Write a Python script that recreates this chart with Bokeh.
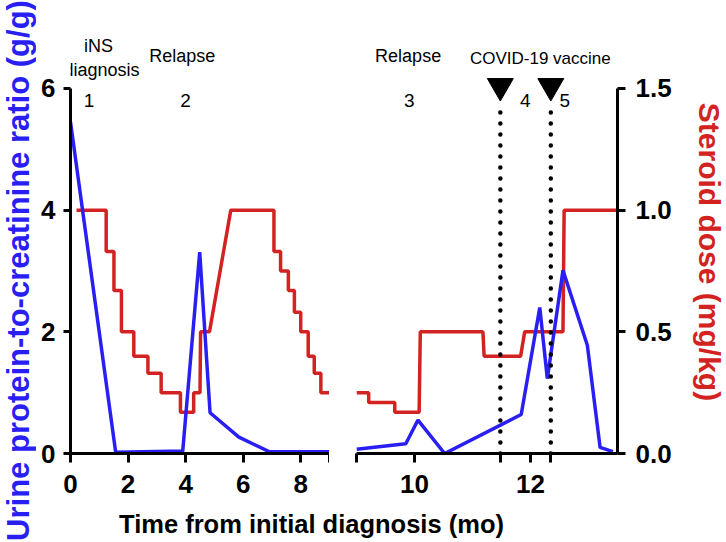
import math
from bokeh.plotting import figure
from bokeh.models import Range1d, LinearAxis, FixedTicker, Label, PrintfTickFormatter
from bokeh.layouts import row, column
from bokeh.embed import file_html
from bokeh.resources import INLINE
from bokeh.core.properties import value

# ---------------- data ----------------
# Urine protein-to-creatinine ratio (g/g), broken time axis (months)
pcr_t_early = [0, 1.57, 3.9, 4.49, 4.85, 5.85, 6.9, 9.0]
pcr_early = [5.45, 0.02, 0.04, 3.31, 0.67, 0.27, 0.03, 0.03]
pcr_t_late = [9.0, 9.85, 10.06, 10.52, 11.84, 12.16, 12.29, 12.56, 12.98, 13.2, 13.42]
pcr_late = [0.07, 0.16, 0.55, 0.0, 0.64, 2.40, 1.23, 3.01, 1.78, 0.1, 0.03]

# Steroid dose (mg/kg)
ster_t_early = [0.21, 1.24, 1.24, 1.51, 1.51, 1.77, 1.77, 2.2, 2.2, 2.69,
                2.69, 3.15, 3.15, 3.82, 3.82, 4.28, 4.28, 4.5, 4.52, 4.83,
                5.57, 7.07, 7.07, 7.3, 7.3, 7.57, 7.57, 7.78, 7.78, 8.0,
                8.0, 8.26, 8.26, 8.47, 8.47, 8.7, 8.7, 9.0]
ster_early = [1.0, 1.0, 0.83, 0.83, 0.67, 0.67, 0.5, 0.5, 0.4, 0.4,
              0.33, 0.33, 0.25, 0.25, 0.17, 0.17, 0.25, 0.25, 0.5, 0.5,
              1.0, 1.0, 0.83, 0.83, 0.75, 0.75, 0.67, 0.67, 0.58, 0.58,
              0.5, 0.5, 0.4, 0.4, 0.33, 0.33, 0.25, 0.25]
ster_t_late = [9.0, 9.21, 9.21, 9.66, 9.66, 10.08, 10.1, 11.18, 11.2, 11.83, 11.9, 12.56, 12.58, 13.5]
ster_late = [0.25, 0.25, 0.21, 0.21, 0.17, 0.17, 0.5, 0.5, 0.4, 0.4, 0.5, 0.5, 1.0, 1.0]

# COVID-19 vaccine doses (months)
vaccine_t = [11.48, 12.35]

# phase numbers and event labels
phase_text = ["1", "2", "3", "4", "5"]
phase_t = [0.64, 4.0, 9.91, 11.91, 12.59]
event_text = ["iNS", "diagnosis", "Relapse", "Relapse", "COVID-19 vaccine"]
event_t = [0.97, 1.08, 3.88, 9.89, 12.17]
event_y = [6.69, 6.30, 6.54, 6.54, 6.49]
event_size = ["18px", "18px", "18px", "18px", "17px"]

x_ticks_early = [0, 2, 4, 6, 8]
x_minor_early = [9]
x_ticks_late = [10, 12]
x_minor_late = [9] + vaccine_t
pcr_ticks = [0, 2, 4, 6]
ster_ticks = [0, 0.5, 1.0, 1.5]

y_title = "Urine protein-to-creatinine ratio (g/g)"
y2_title = "Steroid dose (mg/kg)"
x_title = "Time from initial diagnosis (mo)"

# ---------------- style ----------------
BLUE = "#2a1ff2"
RED = "#d32222"
FONT = "Liberation Sans"
YMAX = 7.15
PHASE_Y = 5.81
TRI_Y = 6.04
DOT_TOP = 5.65

TOP_H = 504      # height of the two chart panels
BOT_H = 37       # height of the x title strip
P4_W = 49


def style_axis(ax, tick_out, standoff):
    ax.axis_line_width = 3
    ax.axis_line_color = "black"
    ax.major_tick_line_width = 3
    ax.major_tick_out = tick_out
    ax.major_tick_in = 0
    ax.minor_tick_line_width = 3
    ax.minor_tick_line_color = "black"
    ax.minor_tick_out = tick_out
    ax.minor_tick_in = 0
    ax.major_label_text_font = FONT
    ax.major_label_text_font_size = "26px"
    ax.major_label_text_font_style = "bold"
    ax.major_label_text_color = "black"
    ax.major_label_standoff = standoff


def bare(width, height):
    p = figure(width=width, height=height, x_range=Range1d(0, width), y_range=Range1d(0, height),
               min_border=0, toolbar_location=None, output_backend="svg",
               x_axis_location=None, y_axis_location=None)
    p.outline_line_color = None
    p.grid.visible = False
    return p


def make_panel(x0, x1, fw, bl, br, ylab):
    p = figure(frame_width=fw, frame_height=435,
               x_range=Range1d(x0, x1), y_range=Range1d(0, YMAX),
               output_backend="svg", toolbar_location=None,
               min_border_left=bl, min_border_right=br,
               min_border_top=18, min_border_bottom=51,
               y_axis_location=("left" if ylab else None))
    p.extra_y_ranges = {"steroid": Range1d(0, YMAX / 4)}
    p.xgrid.visible = False
    p.ygrid.visible = False
    p.outline_line_color = None
    return p


p1 = make_panel(0, 9, 259, 34, 0, True)
p2 = make_panel(9, 13.5, 261, 27, 60, False)

# axes
style_axis(p1.xaxis[0], 9, 12)
p1.xaxis[0].ticker = FixedTicker(ticks=x_ticks_early, minor_ticks=x_minor_early)
style_axis(p2.xaxis[0], 9, 12)
p2.xaxis[0].ticker = FixedTicker(ticks=x_ticks_late, minor_ticks=x_minor_late)

ly = p1.yaxis[0]
style_axis(ly, 7, 8)
ly.ticker = FixedTicker(ticks=pcr_ticks)
ly.bounds = (0, 6)

ry = LinearAxis(y_range_name="steroid", ticker=FixedTicker(ticks=ster_ticks),
                formatter=PrintfTickFormatter(format="%.1f"), bounds=(0, 1.5))
style_axis(ry, 8, 10)
p2.add_layout(ry, "right")

# data lines
p1.line(ster_t_early, ster_early, y_range_name="steroid", line_color=RED, line_width=3.5)
p2.line(ster_t_late, ster_late, y_range_name="steroid", line_color=RED, line_width=3.5)
p1.line(pcr_t_early, pcr_early, line_color=BLUE, line_width=3.5)
p2.line(pcr_t_late, pcr_late, line_color=BLUE, line_width=3.5)

# vaccine markers
p2.segment(x0=vaccine_t, y0=[0] * len(vaccine_t), x1=vaccine_t, y1=[DOT_TOP] * len(vaccine_t),
           line_color="black", line_width=4.5, line_dash="0 11", line_cap="round")
p2.scatter(x=vaccine_t, y=[TRI_Y] * len(vaccine_t), marker="inverted_triangle",
           size=26, fill_color="black", line_color="black")

# annotations
for t, s in zip(phase_t, phase_text):
    p = p1 if t < 9 else p2
    p.add_layout(Label(x=t, y=PHASE_Y, text=s, text_align="center", text_baseline="middle",
                       text_font=FONT, text_font_size="19px", text_color="black"))
for t, yv, s, fs in zip(event_t, event_y, event_text, event_size):
    p = p1 if t < 9 else p2
    p.add_layout(Label(x=t, y=yv, text=s, text_align="center", text_baseline="middle",
                       text_font=FONT, text_font_size=fs, text_color="black"))

# axis titles in their own strips
p0 = bare(36, TOP_H + BOT_H)
p0.text(x=[17.8], y=[271], text=[y_title], angle=math.pi / 2, text_align="center",
        text_baseline="middle", text_font=value(FONT), text_font_size="31px",
        text_font_style="bold", text_color=BLUE)

p4 = bare(P4_W, TOP_H)
p4.text(x=[31.5], y=[TOP_H - 270.5], text=[y2_title], angle=-math.pi / 2, text_align="center",
        text_baseline="middle", text_font=value(FONT), text_font_size="30px",
        text_font_style="bold", text_color=RED)

p3 = bare(293 + 348 + P4_W, BOT_H)
p3.text(x=[275], y=[18], text=[x_title], text_align="center", text_baseline="middle",
        text_font=value(FONT), text_font_size="25.5px", text_font_style="bold",
        text_color="black")

layout = row(p0, column(row(p1, p2, p4), p3))
open("out.html", "w").write(file_html(layout, INLINE))
